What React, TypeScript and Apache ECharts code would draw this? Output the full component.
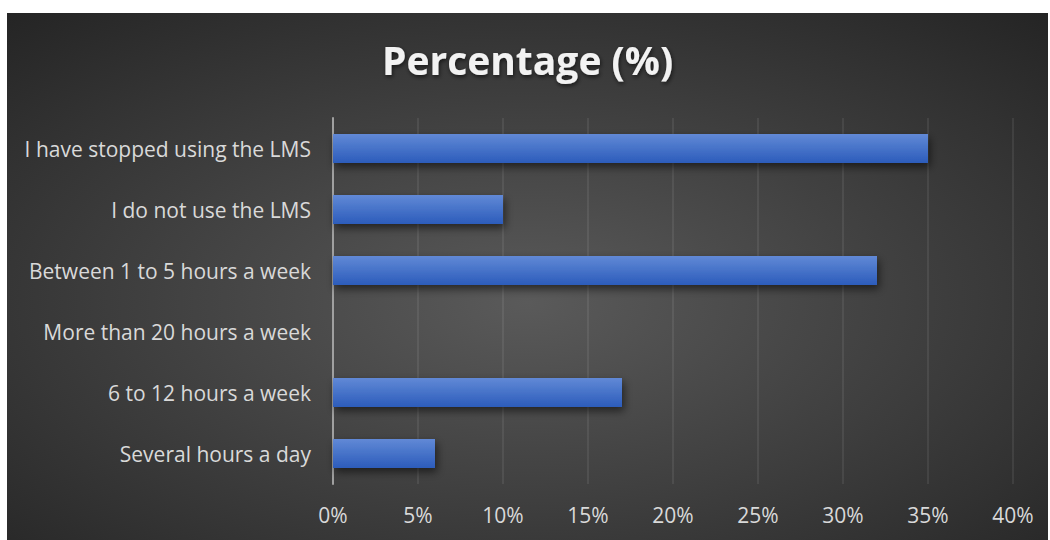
import React, { useEffect, useRef } from "react";
import * as echarts from "echarts";

const categories = [
  "I have stopped using the LMS",
  "I do not use the LMS",
  "Between 1 to 5 hours a week",
  "More than 20 hours a week",
  "6 to 12 hours a week",
  "Several hours a day",
];
const values = [35, 10, 32, 0, 17, 6];
const titleText = "Percentage (%)";

const FONT = "'Open Sans', sans-serif";

export default function App() {
  const ref = useRef<HTMLDivElement>(null);
  useEffect(() => {
    if (!ref.current) return;
    const chart = echarts.init(ref.current, undefined, { renderer: "svg" });
    chart.setOption({
      animation: false,
      backgroundColor: {
        type: "radial",
        x: 0.5,
        y: 0.55,
        r: 0.75,
        colorStops: [
          { offset: 0, color: "#5a5a5a" },
          { offset: 1, color: "#242424" },
        ],
      },
      title: {
        text: titleText,
        left: "center",
        top: 22,
        textStyle: {
          fontFamily: FONT,
          fontWeight: "bold",
          fontSize: 39,
          color: "#f2f2f2",
          textShadowColor: "rgba(0,0,0,0.6)",
          textShadowBlur: 4,
          textShadowOffsetX: 1,
          textShadowOffsetY: 2,
        },
      },
      grid: { left: 326, right: 35, top: 105, bottom: 56, containLabel: false },
      xAxis: {
        type: "value",
        min: 0,
        max: 40,
        interval: 5,
        axisLine: { show: false },
        axisTick: { show: false },
        splitLine: { show: true, lineStyle: { color: "rgba(255,255,255,0.1)", width: 1.5 } },
        axisLabel: {
          formatter: "{value}%",
          color: "#d9d9d9",
          fontSize: 21,
          fontFamily: FONT,
          margin: 20,
        },
      },
      yAxis: {
        type: "category",
        data: categories,
        inverse: true,
        axisLine: { show: true, lineStyle: { color: "#a0a0a0", width: 2 } },
        axisTick: { show: false },
        axisLabel: {
          color: "#d9d9d9",
          fontSize: 21,
          fontFamily: FONT,
          margin: 22,
        },
      },
      series: [
        {
          type: "bar",
          data: values,
          barWidth: 29,
          itemStyle: {
            color: {
              type: "linear",
              x: 0,
              y: 0,
              x2: 0,
              y2: 1,
              colorStops: [
                { offset: 0, color: "#6189d6" },
                { offset: 1, color: "#2c5cbb" },
              ],
            },
            shadowColor: "rgba(0,0,0,0.55)",
            shadowBlur: 8,
            shadowOffsetX: 2,
            shadowOffsetY: 4,
          },
        },
      ],
    });
    return () => chart.dispose();
  }, []);
  return (
    <div
      ref={ref}
      style={{ position: "absolute", left: 7, top: 13, width: 1041, height: 527 }}
    />
  );
}
